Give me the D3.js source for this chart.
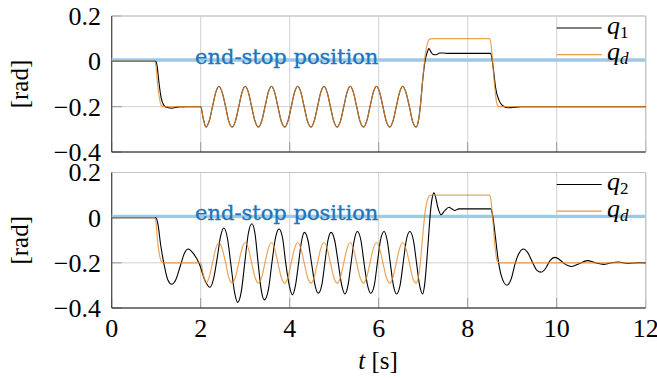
<!DOCTYPE html>
<html><head><meta charset="utf-8">
<script src="https://cdn.jsdelivr.net/npm/d3@7"></script>
<style>body{margin:0;background:#fff}</style>
</head><body>
<svg id="chart" width="657" height="379"></svg>
<script>
const xTicks = [0, 2, 4, 6, 8, 10, 12];
const xTickLabels = ["0", "2", "4", "6", "8", "10", "12"];
const yTicks = [-0.4, -0.2, 0, 0.2];
const yTickLabels = ["\u22120.4", "\u22120.2", "0", "0.2"];
const endStop = 0.006;
const endStopLabel = "end-stop position";

// desired trajectory q_d (same in both panels)
const tQd = [0,0.97,1.0,1.03,1.07,1.12,1.18,2.0,2.06,2.12,2.19,2.265,2.34,2.41,2.48,2.56,2.63,2.71,2.78,2.855,2.93,3.0,3.07,3.145,3.22,3.3,3.37,3.445,3.52,3.59,3.66,3.735,3.81,3.89,3.96,4.035,4.11,4.18,4.25,4.325,4.4,4.48,4.55,4.625,4.7,4.77,4.84,4.915,4.99,5.07,5.14,5.215,5.29,5.36,5.43,5.505,5.58,5.66,5.73,5.805,5.88,5.95,6.02,6.095,6.17,6.25,6.32,6.395,6.47,6.54,6.61,6.69,6.76,6.84,6.89,6.94,6.99,7.04,7.09,7.14,7.2,8.49,8.52,8.56,8.61,8.66,8.72,12];
const qd  = [0,0,-0.03,-0.1,-0.16,-0.195,-0.2,-0.2,-0.255,-0.29,-0.264,-0.2,-0.136,-0.11,-0.136,-0.2,-0.264,-0.29,-0.264,-0.2,-0.136,-0.11,-0.136,-0.2,-0.264,-0.29,-0.264,-0.2,-0.136,-0.11,-0.136,-0.2,-0.264,-0.29,-0.264,-0.2,-0.136,-0.11,-0.136,-0.2,-0.264,-0.29,-0.264,-0.2,-0.136,-0.11,-0.136,-0.2,-0.264,-0.29,-0.264,-0.2,-0.136,-0.11,-0.136,-0.2,-0.264,-0.29,-0.264,-0.2,-0.136,-0.11,-0.136,-0.2,-0.264,-0.29,-0.264,-0.2,-0.136,-0.11,-0.136,-0.2,-0.264,-0.29,-0.265,-0.19,-0.08,0.02,0.075,0.097,0.1,0.1,0.08,0.0,-0.12,-0.19,-0.2,-0.2];

// joint 1
const tQ1 = [0,0.99,1.02,1.06,1.11,1.17,1.25,1.35,1.5,1.7,2.0,2.06,2.12,2.19,2.265,2.34,2.41,2.48,2.56,2.63,2.71,2.78,2.855,2.93,3.0,3.07,3.145,3.22,3.3,3.37,3.445,3.52,3.59,3.66,3.735,3.81,3.89,3.96,4.035,4.11,4.18,4.25,4.325,4.4,4.48,4.55,4.625,4.7,4.77,4.84,4.915,4.99,5.07,5.14,5.215,5.29,5.36,5.43,5.505,5.58,5.66,5.73,5.805,5.88,5.95,6.02,6.095,6.17,6.25,6.32,6.395,6.47,6.54,6.61,6.69,6.76,6.84,6.89,6.94,6.99,7.04,7.09,7.13,7.17,7.22,7.29,7.37,7.45,7.55,8.51,8.54,8.58,8.63,8.7,8.78,8.9,9.0,9.2,12];
const q1  = [0,0,-0.02,-0.09,-0.16,-0.193,-0.204,-0.207,-0.201,-0.2,-0.2,-0.255,-0.29,-0.264,-0.2,-0.136,-0.11,-0.136,-0.2,-0.264,-0.29,-0.264,-0.2,-0.136,-0.11,-0.136,-0.2,-0.264,-0.29,-0.264,-0.2,-0.136,-0.11,-0.136,-0.2,-0.264,-0.29,-0.264,-0.2,-0.136,-0.11,-0.136,-0.2,-0.264,-0.29,-0.264,-0.2,-0.136,-0.11,-0.136,-0.2,-0.264,-0.29,-0.264,-0.2,-0.136,-0.11,-0.136,-0.2,-0.264,-0.29,-0.264,-0.2,-0.136,-0.11,-0.136,-0.2,-0.264,-0.29,-0.264,-0.2,-0.136,-0.11,-0.136,-0.2,-0.264,-0.29,-0.265,-0.19,-0.08,0.0,0.04,0.056,0.043,0.03,0.029,0.037,0.037,0.035,0.035,0.02,-0.04,-0.12,-0.17,-0.195,-0.205,-0.204,-0.2,-0.2];

// joint 2
const tQ2 = [0,0.99,1.04,1.1,1.18,1.26,1.35,1.44,1.54,1.63,1.72,1.82,1.97,2.1,2.21,2.29,2.37,2.45,2.52,2.6,2.68,2.76,2.83,2.91,2.99,3.07,3.15,3.22,3.29,3.36,3.43,3.52,3.6,3.68,3.76,3.84,3.91,3.99,4.06,4.13,4.2,4.27,4.33,4.41,4.49,4.57,4.64,4.72,4.79,4.86,4.93,5.01,5.09,5.17,5.24,5.31,5.38,5.45,5.52,5.6,5.67,5.75,5.82,5.9,5.97,6.04,6.12,6.19,6.26,6.33,6.4,6.48,6.55,6.62,6.7,6.78,6.85,6.92,6.99,7.03,7.1,7.17,7.21,7.24,7.28,7.33,7.4,7.48,7.58,7.65,7.71,7.8,8.52,8.56,8.62,8.68,8.76,8.88,8.98,9.07,9.16,9.25,9.35,9.45,9.55,9.65,9.75,9.85,9.96,10.06,10.15,10.25,10.34,10.5,10.69,10.87,11.05,11.2,11.38,11.6,11.85,12];
const q2  = [0,0,-0.03,-0.12,-0.21,-0.275,-0.295,-0.275,-0.215,-0.16,-0.139,-0.155,-0.205,-0.28,-0.308,-0.27,-0.18,-0.08,-0.046,-0.09,-0.21,-0.33,-0.375,-0.33,-0.2,-0.07,-0.027,-0.07,-0.2,-0.32,-0.364,-0.32,-0.2,-0.09,-0.05,-0.09,-0.2,-0.3,-0.342,-0.3,-0.2,-0.1,-0.065,-0.1,-0.2,-0.3,-0.335,-0.3,-0.2,-0.1,-0.065,-0.1,-0.2,-0.3,-0.338,-0.3,-0.2,-0.1,-0.061,-0.1,-0.2,-0.3,-0.335,-0.3,-0.2,-0.1,-0.061,-0.1,-0.2,-0.3,-0.338,-0.3,-0.2,-0.1,-0.061,-0.1,-0.2,-0.3,-0.338,-0.3,-0.14,0.04,0.095,0.11,0.09,0.045,0.013,0.03,0.046,0.038,0.032,0.039,0.039,0.01,-0.08,-0.18,-0.26,-0.299,-0.27,-0.2,-0.155,-0.139,-0.155,-0.195,-0.232,-0.241,-0.225,-0.19,-0.176,-0.185,-0.2,-0.212,-0.216,-0.204,-0.19,-0.2,-0.207,-0.201,-0.196,-0.203,-0.199,-0.2];

const panels = [
  {t: tQ1, q: q1, sub: "1", top: 16, bottom: 152},
  {t: tQ2, q: q2, sub: "2", top: 172.5, bottom: 308}
];

const svg = d3.select("#chart");
const x = d3.scaleLinear().domain([0, 12]).range([111.7, 645.7]);
const serif = "Liberation Serif, Times New Roman, serif";
const orange = "#e68c2d";

panels.forEach((p, pi) => {
  const y = d3.scaleLinear().domain([-0.4, 0.2]).range([p.bottom, p.top]);
  const g = svg.append("g");
  // grid
  g.selectAll(".gx").data(xTicks).join("line")
    .attr("x1", d => x(d)).attr("x2", d => x(d))
    .attr("y1", p.top).attr("y2", p.bottom)
    .attr("stroke", "#d0d0d0").attr("stroke-width", 1);
  g.selectAll(".gy").data(yTicks).join("line")
    .attr("x1", x(0)).attr("x2", x(12))
    .attr("y1", d => y(d)).attr("y2", d => y(d))
    .attr("stroke", "#d0d0d0").attr("stroke-width", 1);
  // inward ticks
  g.selectAll(".tx").data(xTicks).join("line")
    .attr("x1", d => x(d)).attr("x2", d => x(d))
    .attr("y1", p.bottom).attr("y2", p.bottom - 10)
    .attr("stroke", "#999").attr("stroke-width", 1);
  g.selectAll(".ty").data(yTicks).join("line")
    .attr("x1", x(0)).attr("x2", x(0) + 10)
    .attr("y1", d => y(d)).attr("y2", d => y(d))
    .attr("stroke", "#999").attr("stroke-width", 1);
  // frame
  g.append("line").attr("x1", x(0)).attr("x2", x(12)).attr("y1", p.top).attr("y2", p.top)
    .attr("stroke", "#c4c4c4").attr("stroke-width", 1.2);
  g.append("line").attr("x1", x(12)).attr("x2", x(12)).attr("y1", p.top).attr("y2", p.bottom)
    .attr("stroke", "#c4c4c4").attr("stroke-width", 1.2);
  g.append("line").attr("x1", x(0)).attr("x2", x(0)).attr("y1", p.top).attr("y2", p.bottom)
    .attr("stroke", "#444").attr("stroke-width", 1.2);
  g.append("line").attr("x1", x(0)).attr("x2", x(12)).attr("y1", p.bottom).attr("y2", p.bottom)
    .attr("stroke", "#111").attr("stroke-width", 1.2);
  // end-stop line
  g.append("line").attr("x1", x(0)).attr("x2", x(12))
    .attr("y1", y(endStop)).attr("y2", y(endStop))
    .attr("stroke", "#9ecae6").attr("stroke-width", 3.3);
  // curves
  const line = d3.line().x(d => x(d[0])).y(d => y(d[1])).curve(d3.curveMonotoneX);
  g.append("path").datum(p.t.map((t, i) => [t, p.q[i]]))
    .attr("d", line).attr("fill", "none").attr("stroke", "#000").attr("stroke-width", 1.1);
  g.append("path").datum(tQd.map((t, i) => [t, qd[i]]))
    .attr("d", line).attr("fill", "none").attr("stroke", orange).attr("stroke-width", 1.2)
    .attr("stroke-opacity", 0.8);
  // end-stop label
  g.append("text").attr("x", 195).attr("y", y(0) + 2.7)
    .attr("font-family", "DejaVu Serif, serif").attr("font-size", 21)
    .attr("fill", "#1a76c0").attr("stroke", "#1a76c0").attr("stroke-width", 0.35)
    .text(endStopLabel);
  // y tick labels
  g.selectAll(".yl").data(yTicks).join("text")
    .attr("x", 101).attr("y", d => y(d)).attr("dy", "0.34em")
    .attr("text-anchor", "end").attr("font-family", serif).attr("font-size", 26)
    .attr("fill", "#000").text((d, i) => yTickLabels[i]);
  // y axis label
  g.append("text").attr("transform", `translate(28,${(p.top + p.bottom) / 2}) rotate(-90)`)
    .attr("text-anchor", "middle").attr("font-family", serif).attr("font-size", 25)
    .text("[rad]");
  // legend
  const ly = p.top;
  const leg = [{c: "#000", sub: p.sub, dy: 12, op: 1}, {c: orange, sub: "d", dy: 38.7, op: 0.9}];
  leg.forEach(l => {
    g.append("line").attr("x1", 556.7).attr("x2", 601.7)
      .attr("y1", ly + l.dy).attr("y2", ly + l.dy)
      .attr("stroke", l.c).attr("stroke-width", 1.2).attr("stroke-opacity", l.op);
    const tx = g.append("text").attr("x", 607).attr("y", ly + l.dy + 5.6)
      .attr("font-family", serif).attr("font-size", 26);
    tx.append("tspan").attr("font-style", "italic").text("q");
    tx.append("tspan").attr("font-size", 17).attr("dy", 4)
      .attr("font-style", l.sub === "d" ? "italic" : "normal").text(l.sub);
  });
  if (pi === 1) {
    g.selectAll(".xl").data(xTicks).join("text")
      .attr("x", d => x(d)).attr("y", 337)
      .attr("text-anchor", "middle").attr("font-family", serif).attr("font-size", 26)
      .text((d, i) => xTickLabels[i]);
  }
});

const xl = svg.append("text").attr("x", 378).attr("y", 368.5)
  .attr("text-anchor", "middle").attr("font-family", serif).attr("font-size", 25);
xl.append("tspan").attr("font-style", "italic").text("t");
xl.append("tspan").text(" [s]");
</script>
</body></html>
